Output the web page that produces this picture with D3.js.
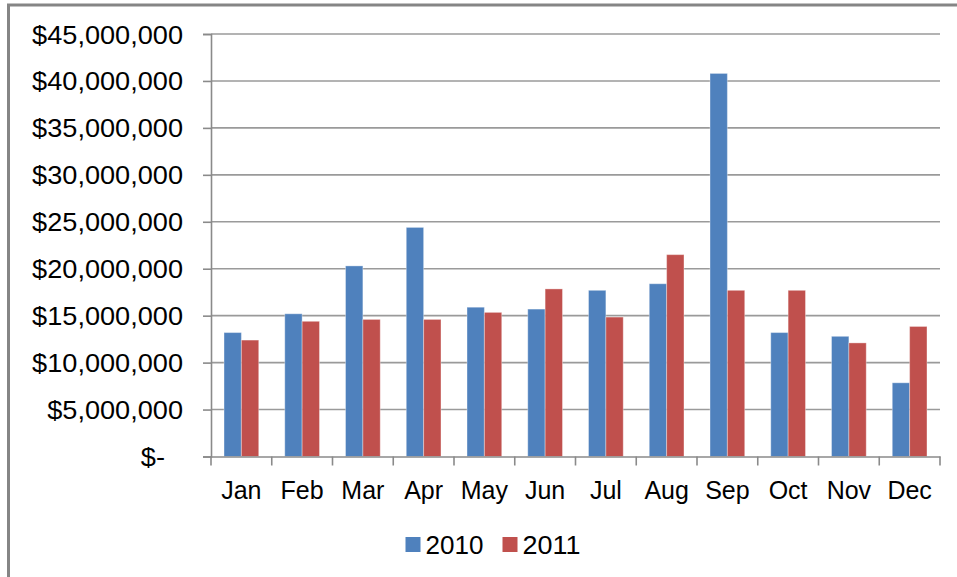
<!DOCTYPE html>
<html>
<head>
<meta charset="utf-8">
<script src="https://cdn.jsdelivr.net/npm/d3@7"></script>
<style>
  html, body { margin: 0; padding: 0; background: #fff; }
  svg { display: block; font-family: "Liberation Sans", Arial, sans-serif; }
</style>
</head>
<body>
<svg id="chart" width="957" height="577"></svg>
<script>
// Monthly totals, 2010 vs 2011
const months = ["Jan", "Feb", "Mar", "Apr", "May", "Jun", "Jul", "Aug", "Sep", "Oct", "Nov", "Dec"];
const seriesNames = ["2010", "2011"];
const values2010 = [13200000, 15200000, 20300000, 24400000, 15900000, 15700000, 17700000, 18400000, 40800000, 13200000, 12800000, 7850000];
const values2011 = [12400000, 14400000, 14600000, 14600000, 15350000, 17850000, 14850000, 21500000, 17700000, 17700000, 12100000, 13850000];
const yTicks = [0, 5000000, 10000000, 15000000, 20000000, 25000000, 30000000, 35000000, 40000000, 45000000];
const colors = ["#4F81BD", "#C0504D"];

const svg = d3.select("#chart");
const plot = { left: 211, right: 940, top: 34, bottom: 456.5 };

const x = d3.scaleBand().domain(months).range([plot.left, plot.right]).padding(0);
const xs = d3.scaleBand().domain(seriesNames).range([0, x.bandwidth()])
  .paddingInner(0).paddingOuter(0.75);
const y = d3.scaleLinear().domain([0, 45000000]).range([plot.bottom, plot.top]);

// outer frame
svg.append("line").attr("x1", 8.5).attr("x2", 8.5).attr("y1", 4).attr("y2", 577)
  .attr("stroke", "#858585").attr("stroke-width", 3);
svg.append("line").attr("x1", 7).attr("x2", 957).attr("y1", 5).attr("y2", 5)
  .attr("stroke", "#858585").attr("stroke-width", 3);

// horizontal gridlines
svg.append("g").selectAll("line").data(yTicks.slice(1)).join("line")
  .attr("x1", plot.left).attr("x2", plot.right)
  .attr("y1", d => y(d)).attr("y2", d => y(d))
  .attr("stroke", "#9a9a9a").attr("stroke-width", 1.6);

// bars
const data = months.map((m, i) => ({ month: m, vals: [values2010[i], values2011[i]] }));
const groups = svg.append("g").selectAll("g").data(data).join("g")
  .attr("transform", d => `translate(${x(d.month)},0)`);
groups.selectAll("rect").data(d => d.vals.map((v, k) => ({ key: seriesNames[k], v, k }))).join("rect")
  .attr("x", d => xs(d.key))
  .attr("width", xs.bandwidth())
  .attr("y", d => y(d.v))
  .attr("height", d => y(0) - y(d.v))
  .attr("fill", d => colors[d.k])
  .attr("stroke", "rgba(255,255,255,0.35)")
  .attr("stroke-width", 1);

// y axis
const yAxis = d3.axisLeft(y).tickValues(yTicks).tickSize(8).tickPadding(20)
  .tickFormat(d => d === 0 ? "$-" : "$" + d3.format(",")(d));
const gy = svg.append("g").attr("transform", `translate(${plot.left},0)`).call(yAxis);
gy.select(".domain").attr("stroke", "#8a8a8a").attr("stroke-width", 1.6);
gy.selectAll(".tick line").attr("stroke", "#8a8a8a").attr("stroke-width", 1.6);
const yText = gy.selectAll(".tick text").attr("font-size", 25).attr("fill", "#000")
  .attr("font-family", "'Liberation Sans', Arial, sans-serif")
  .attr("dy", "0.36em")
  .attr("x", 0);
// the value labels are set slightly wide: widest label spans ~151px
let widest = 0;
yText.each(function () { widest = Math.max(widest, this.getComputedTextLength()); });
const yStretch = widest > 0 ? 151 / widest : 1;
yText.attr("transform", d => `translate(${d === 0 ? -46 : -28},0) scale(${yStretch},1)`);

// x axis: labels centred on categories, ticks on category boundaries
const xAxis = d3.axisBottom(x).tickSize(0).tickPadding(0);
const gx = svg.append("g").attr("transform", `translate(0,${plot.bottom})`).call(xAxis);
gx.select(".domain").attr("stroke", "#8a8a8a").attr("stroke-width", 1.6);
gx.selectAll(".tick text").attr("font-size", 25).attr("fill", "#000")
  .attr("font-family", "'Liberation Sans', Arial, sans-serif")
  .attr("y", 42).attr("dy", 0);
const bounds = months.map(m => x(m)).concat([x(months[months.length - 1]) + x.bandwidth()]);
gx.append("g").selectAll("line").data(bounds).join("line")
  .attr("x1", d => d).attr("x2", d => d).attr("y1", 0).attr("y2", 9)
  .attr("stroke", "#8a8a8a").attr("stroke-width", 1.6);

// legend
const legend = svg.append("g");
const legendX = [405.5, 502.5];
seriesNames.forEach((name, k) => {
  legend.append("rect").attr("x", legendX[k]).attr("y", 537).attr("width", 15).attr("height", 15)
    .attr("fill", colors[k]);
  const t = legend.append("text").attr("x", 0).attr("y", 0)
    .attr("font-size", 25).attr("fill", "#000").text(name);
  const w = t.node().getComputedTextLength();
  const s = w > 0 ? 58 / w : 1;
  t.attr("transform", `translate(${legendX[k] + 20},553.5) scale(${s},1)`);
});
</script>
</body>
</html>
